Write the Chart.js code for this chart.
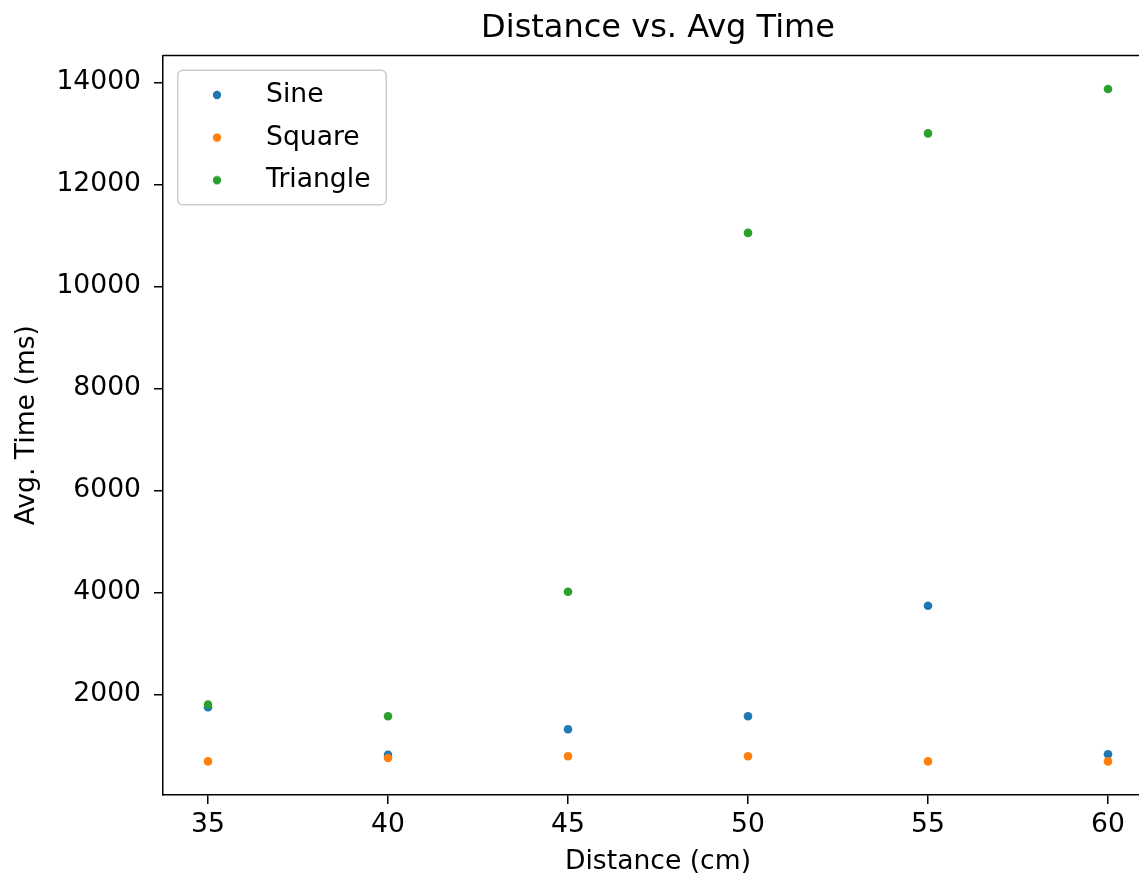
<!DOCTYPE html>
<html>
<head>
<meta charset="utf-8">
<script src="https://cdn.jsdelivr.net/npm/chart.js@4.4.0/dist/chart.umd.min.js"></script>
<style>
html, body { margin: 0; padding: 0; overflow: hidden; background: #fff; }
#wrap { position: absolute; left: 0; top: 0; width: 1165px; height: 878px; }
</style>
</head>
<body>
<div id="wrap"><canvas id="c" width="1165" height="878"></canvas></div>
<script>
// ---- data ----
const distances = [35, 40, 45, 50, 55, 60];
const sineTimes = [1750, 820, 1320, 1575, 3740, 830];
const squareTimes = [690, 755, 790, 790, 690, 690];
const triangleTimes = [1805, 1575, 4015, 11050, 13000, 13870];
const seriesNames = ['Sine', 'Square', 'Triangle'];
const seriesColors = ['#1f77b4', '#ff7f0e', '#2ca02c'];
const xTicks = [35, 40, 45, 50, 55, 60];
const yTicks = [2000, 4000, 6000, 8000, 10000, 12000, 14000];

// matplotlib-like 5% margins
function padRange(vals) {
  const mn = Math.min(...vals), mx = Math.max(...vals);
  const p = 0.05 * (mx - mn);
  return [mn - p, mx + p];
}
const [xMin, xMax] = padRange(distances);
const [yMin, yMax] = padRange([...sineTimes, ...squareTimes, ...triangleTimes]);

const FONT = 'DejaVu Sans';
const TICK_SIZE = 26.6;
Chart.defaults.font.family = FONT;
Chart.defaults.color = '#000';

function pts(ys) { return distances.map((x, i) => ({ x: x, y: ys[i] })); }
function dot(color) {
  const c = document.createElement('canvas');
  c.width = 10; c.height = 10;
  const g = c.getContext('2d');
  g.fillStyle = color;
  g.beginPath(); g.arc(5, 5, 4.2, 0, Math.PI * 2); g.fill();
  return c;
}

const seriesData = [sineTimes, squareTimes, triangleTimes];
const datasets = seriesNames.map((name, i) => ({
  label: name,
  data: pts(seriesData[i]),
  backgroundColor: seriesColors[i],
  borderColor: seriesColors[i],
  borderWidth: 0,
  pointRadius: 4.3,
  pointHoverRadius: 4.3,
  order: seriesNames.length - 1 - i
}));

const framePlugin = {
  id: 'frame',
  afterUpdate(chart) {
    const lg = chart.legend, ca = chart.chartArea;
    if (!lg) return;
    const w = lg.width, h = lg.height;
    lg.left = ca.left + 2.25;
    lg.top = ca.top + 10.3;
    lg.right = lg.left + w;
    lg.bottom = lg.top + h;
    if (lg.adjustHitBoxes) lg.adjustHitBoxes();
  },
  beforeDraw(chart) {
    const lg = chart.legend, ctx = chart.ctx;
    if (!lg) return;
    const x0 = lg.left + 12.5, y0 = lg.top + 4.5, x1 = lg.left + 221, y1 = lg.top + 139;
    const r = 5;
    ctx.save();
    ctx.beginPath();
    ctx.moveTo(x0 + r, y0);
    ctx.arcTo(x1, y0, x1, y1, r);
    ctx.arcTo(x1, y1, x0, y1, r);
    ctx.arcTo(x0, y1, x0, y0, r);
    ctx.arcTo(x0, y0, x1, y0, r);
    ctx.closePath();
    ctx.fillStyle = 'rgba(255,255,255,0.8)';
    ctx.fill();
    ctx.strokeStyle = '#cccccc';
    ctx.lineWidth = 1.5;
    ctx.stroke();
    ctx.restore();
  },
  afterDraw(chart) {
    const ca = chart.chartArea, ctx = chart.ctx;
    ctx.save();
    ctx.strokeStyle = '#000';
    ctx.lineWidth = 1.5;
    ctx.beginPath();
    ctx.moveTo(ca.left, ca.top);
    ctx.lineTo(ca.right, ca.top);
    ctx.lineTo(ca.right, ca.bottom);
    ctx.stroke();
    ctx.restore();
  }
};

new Chart(document.getElementById('c'), {
  type: 'scatter',
  data: { datasets: datasets },
  plugins: [framePlugin],
  options: {
    responsive: false,
    animation: false,
    devicePixelRatio: 1,
    events: [],
    layout: { padding: { left: 0, right: 12, top: 0, bottom: 0 } },
    plugins: {
      title: {
        display: true,
        text: 'Distance vs. Avg Time',
        fullSize: false,
        color: '#000',
        font: { family: FONT, size: 32, weight: 'normal' },
        padding: { top: 9, bottom: 8 }
      },
      legend: {
        display: true,
        position: 'chartArea',
        align: 'start',
        labels: {
          usePointStyle: true,
          pointStyleWidth: 71.5,
          boxHeight: 8,
          padding: 16,
          color: '#000',
          font: { family: FONT, size: TICK_SIZE },
          generateLabels: (chart) => chart.data.datasets.map((ds, i) => ({
            text: ds.label,
            pointStyle: dot(ds.backgroundColor),
            fillStyle: ds.backgroundColor,
            strokeStyle: ds.backgroundColor,
            lineWidth: 0,
            hidden: !chart.isDatasetVisible(i),
            datasetIndex: i
          }))
        }
      },
      tooltip: { enabled: false }
    },
    scales: {
      x: {
        type: 'linear',
        position: 'bottom',
        min: xMin,
        max: xMax,
        afterBuildTicks: (s) => { s.ticks = xTicks.map(v => ({ value: v })); },
        afterFit: (s) => { s.height = 83; },
        ticks: {
          color: '#000',
          padding: 5,
          font: { family: FONT, size: TICK_SIZE },
          maxRotation: 0,
          autoSkip: false,
          callback: (v) => String(v)
        },
        grid: { display: true, drawOnChartArea: false, drawTicks: true, tickLength: 9, color: '#000', lineWidth: 1.5 },
        border: { display: true, color: '#000', width: 1.5 },
        title: {
          display: true,
          text: 'Distance (cm)',
          color: '#000',
          font: { family: FONT, size: TICK_SIZE },
          padding: { top: 0, bottom: 0 }
        }
      },
      y: {
        type: 'linear',
        position: 'left',
        min: yMin,
        max: yMax,
        afterBuildTicks: (s) => { s.ticks = yTicks.map(v => ({ value: v })); },
        afterFit: (s) => { s.width = 163; },
        ticks: {
          color: '#000',
          padding: 13,
          font: { family: FONT, size: TICK_SIZE },
          autoSkip: false,
          callback: (v) => String(v)
        },
        grid: { display: true, drawOnChartArea: false, drawTicks: true, tickLength: 9, color: '#000', lineWidth: 1.5 },
        border: { display: true, color: '#000', width: 1.5 },
        title: {
          display: true,
          text: 'Avg. Time (ms)',
          color: '#000',
          font: { family: FONT, size: TICK_SIZE },
          padding: { top: 11, bottom: 0 }
        }
      }
    }
  }
});
</script>
</body>
</html>
